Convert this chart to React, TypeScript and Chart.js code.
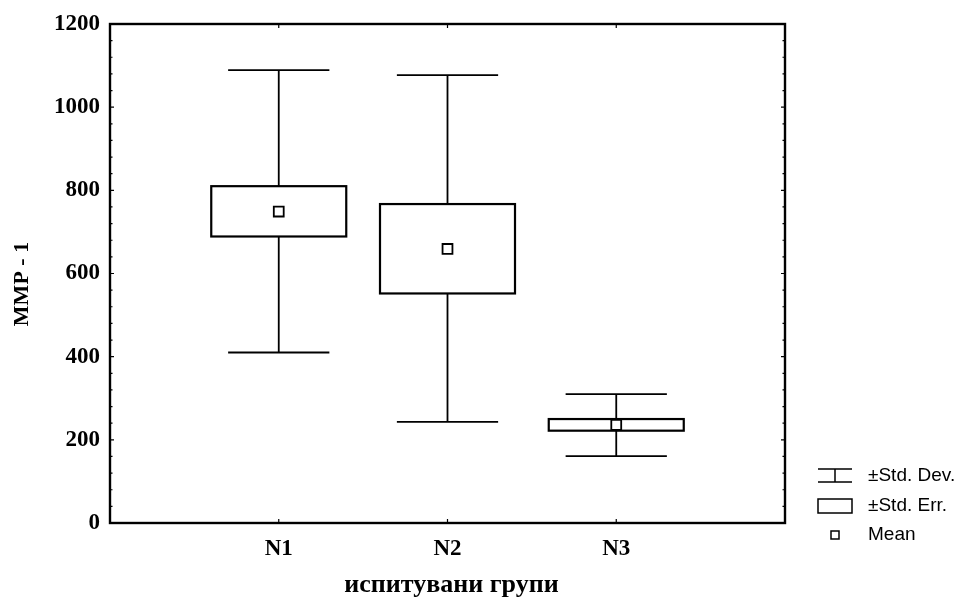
import React, { useEffect, useRef } from "react";
import { Chart, registerables } from "chart.js";

Chart.register(...registerables);

const groups = ["N1", "N2", "N3"];
const groupPos = [1, 2, 3];
const means = [749, 659, 236];
const seHigh = [810, 767, 250];
const seLow = [689, 552, 222];
const sdHigh = [1089, 1077, 310];
const sdLow = [410, 243, 161];

const yMin = 0;
const yMax = 1200;
const yMajorStep = 200;
const yMinorStep = 40;
const xMin = 0;
const xMax = 4;

const yTitle = "MMP - 1";
const xTitle = "испитувани групи";
const legendLabels = ["±Std. Dev.", "±Std. Err.", "Mean"];

const SERIF = "'Liberation Serif', 'Times New Roman', serif";
const SANS = "'Liberation Sans', Arial, sans-serif";

const boxPlugin = {
  id: "boxWhisker",
  beforeDatasetsDraw(chart: any) {
    const { ctx, scales } = chart;
    const xs = scales.x;
    const ys = scales.y;
    ctx.save();
    ctx.strokeStyle = "#000";
    ctx.lineCap = "butt";
    groupPos.forEach((p, i) => {
      const xc = xs.getPixelForValue(p);
      const bl = xs.getPixelForValue(p - 0.4);
      const br = xs.getPixelForValue(p + 0.4);
      const cl = xs.getPixelForValue(p - 0.3);
      const cr = xs.getPixelForValue(p + 0.3);
      const yTopSd = ys.getPixelForValue(sdHigh[i]);
      const yBotSd = ys.getPixelForValue(sdLow[i]);
      const yTopSe = ys.getPixelForValue(seHigh[i]);
      const yBotSe = ys.getPixelForValue(seLow[i]);
      ctx.lineWidth = 1.8;
      ctx.beginPath();
      ctx.moveTo(xc, yTopSd);
      ctx.lineTo(xc, yTopSe);
      ctx.moveTo(xc, yBotSe);
      ctx.lineTo(xc, yBotSd);
      ctx.moveTo(cl, yTopSd);
      ctx.lineTo(cr, yTopSd);
      ctx.moveTo(cl, yBotSd);
      ctx.lineTo(cr, yBotSd);
      ctx.stroke();
      ctx.fillStyle = "#fff";
      ctx.fillRect(bl, yTopSe, br - bl, yBotSe - yTopSe);
      ctx.lineWidth = 2.2;
      ctx.strokeRect(bl, yTopSe, br - bl, yBotSe - yTopSe);
    });
    ctx.restore();
  },
  afterDraw(chart: any) {
    const { ctx, chartArea, scales } = chart;
    const { left, right, top, bottom } = chartArea;
    const ys = scales.y;
    const xs = scales.x;
    ctx.save();
    ctx.strokeStyle = "#000";
    ctx.lineWidth = 2.4;
    ctx.strokeRect(left, top, right - left, bottom - top);
    ctx.lineWidth = 1.2;
    ctx.beginPath();
    ys.ticks.forEach((t: any) => {
      const y = ys.getPixelForValue(t.value);
      const len = t.value % yMajorStep === 0 ? 4 : 2.5;
      ctx.moveTo(left, y);
      ctx.lineTo(left + len, y);
      ctx.moveTo(right, y);
      ctx.lineTo(right - len, y);
    });
    groupPos.forEach((p) => {
      const x = xs.getPixelForValue(p);
      ctx.moveTo(x, bottom);
      ctx.lineTo(x, bottom - 4);
      ctx.moveTo(x, top);
      ctx.lineTo(x, top + 4);
    });
    ctx.stroke();

    ctx.fillStyle = "#000";
    ctx.textAlign = "center";
    ctx.textBaseline = "middle";
    ctx.font = `bold 26px ${SERIF}`;
    ctx.fillText(xTitle, (left + right) / 2 + 4, 585);
    ctx.save();
    ctx.translate(22, 284);
    ctx.rotate(-Math.PI / 2);
    ctx.font = `bold 22px ${SERIF}`;
    ctx.fillText(yTitle, 0, 0);
    ctx.restore();

    const lx0 = 818;
    const lx1 = 852;
    const lxc = (lx0 + lx1) / 2;
    const rows = [476, 506, 535];
    ctx.lineWidth = 1.5;
    ctx.beginPath();
    ctx.moveTo(lx0, rows[0] - 7);
    ctx.lineTo(lx1, rows[0] - 7);
    ctx.moveTo(lx0, rows[0] + 6);
    ctx.lineTo(lx1, rows[0] + 6);
    ctx.moveTo(lxc, rows[0] - 7);
    ctx.lineTo(lxc, rows[0] + 6);
    ctx.stroke();
    ctx.strokeRect(lx0, rows[1] - 7, lx1 - lx0, 14);
    ctx.strokeRect(lxc - 4, rows[2] - 4, 8, 8);

    ctx.font = `19px ${SANS}`;
    ctx.textAlign = "left";
    legendLabels.forEach((lab, i) => {
      ctx.fillText(lab, 868, rows[i]);
    });
    ctx.restore();
  },
};

export default function App() {
  const canvasRef = useRef<HTMLCanvasElement | null>(null);

  useEffect(() => {
    if (!canvasRef.current) return;
    const chart = new Chart(canvasRef.current, {
      type: "scatter",
      data: {
        datasets: [
          {
            label: "Mean",
            data: groupPos.map((p, i) => ({ x: p, y: means[i] })),
            pointStyle: "rect",
            pointRadius: 7,
            pointHoverRadius: 7,
            backgroundColor: "#fff",
            borderColor: "#000",
            borderWidth: 1.8,
          },
        ],
      },
      options: {
        animation: false,
        responsive: true,
        maintainAspectRatio: false,
        events: [],
        layout: { padding: { top: 24, right: 178, left: 0, bottom: 0 } },
        plugins: {
          legend: { display: false },
          tooltip: { enabled: false },
          title: { display: false },
        },
        scales: {
          x: {
            type: "linear",
            min: xMin,
            max: xMax,
            afterFit: (s: any) => {
              s.height = 75;
            },
            grid: { display: false, drawTicks: false },
            border: { display: false },
            ticks: {
              stepSize: 1,
              padding: 12,
              color: "#000",
              font: { family: SERIF, size: 23, weight: "bold" },
              callback: (v: any) => {
                const idx = groupPos.indexOf(Number(v));
                return idx >= 0 ? groups[idx] : "";
              },
            },
          },
          y: {
            min: yMin,
            max: yMax,
            afterFit: (s: any) => {
              s.width = 110;
            },
            grid: { display: false, drawTicks: false },
            border: { display: false },
            ticks: {
              stepSize: yMinorStep,
              autoSkip: false,
              padding: 10,
              color: "#000",
              font: { family: SERIF, size: 23, weight: "bold" },
              callback: (v: any) => (Number(v) % yMajorStep === 0 ? String(v) : ""),
            },
          },
        },
      },
      plugins: [boxPlugin],
    });
    return () => chart.destroy();
  }, []);

  return (
    <div style={{ position: "absolute", left: 0, top: 0, width: 963, height: 598, background: "#fff" }}>
      <canvas ref={canvasRef} />
    </div>
  );
}
